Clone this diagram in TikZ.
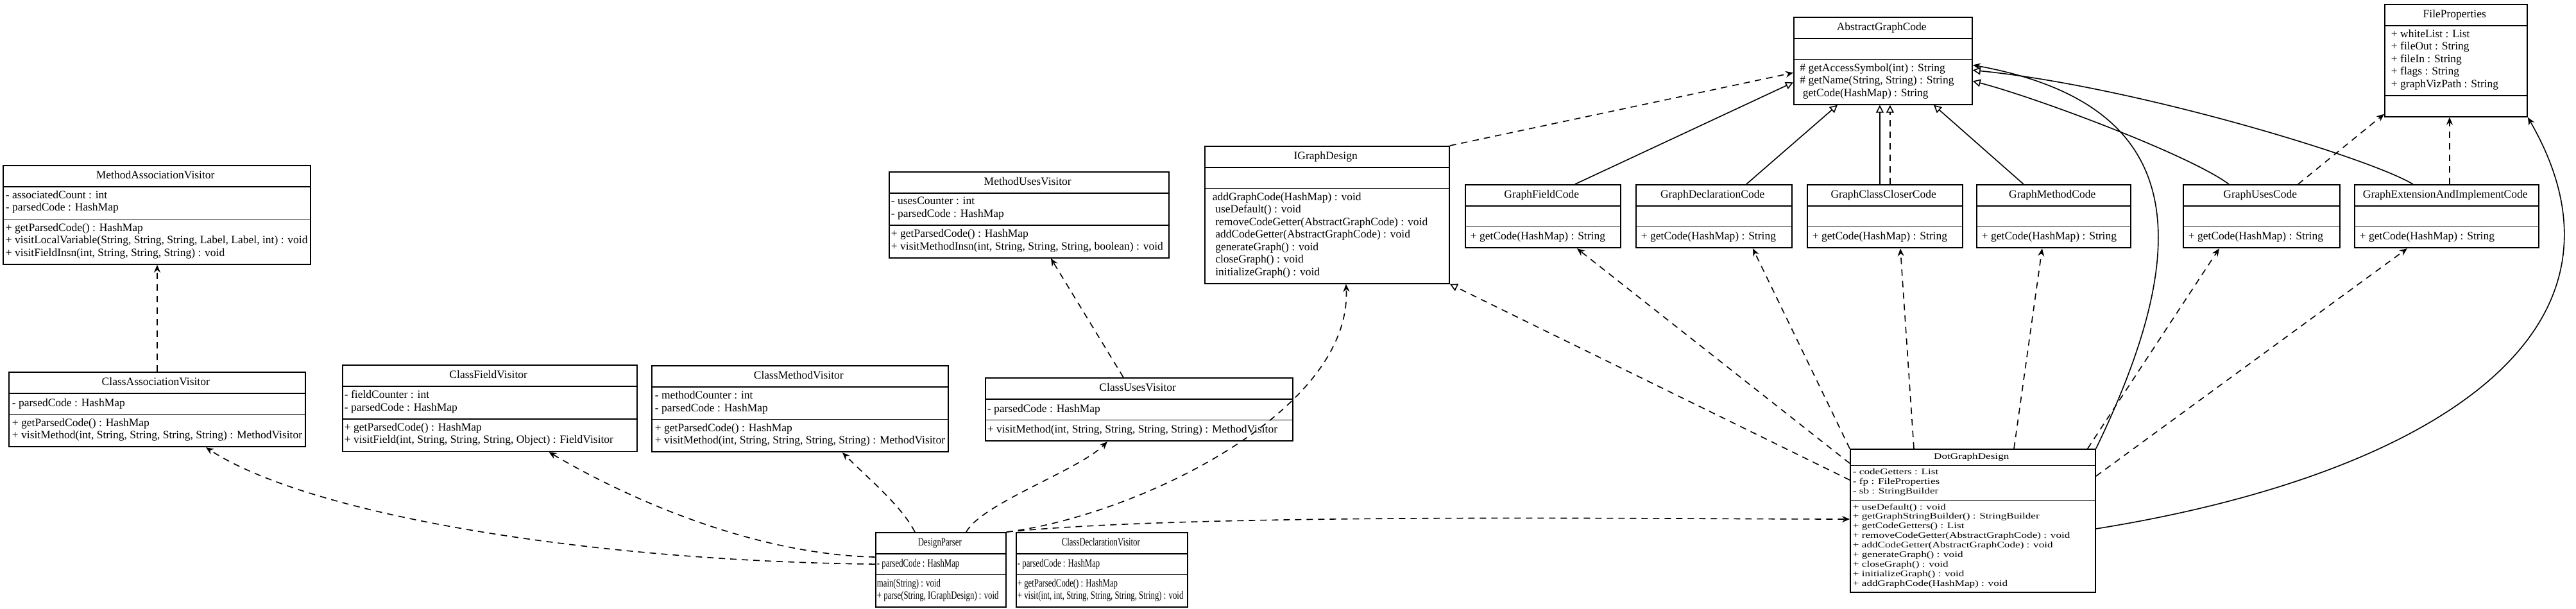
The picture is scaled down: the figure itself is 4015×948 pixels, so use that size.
\documentclass[tikz,border=0pt]{standalone}
\usepackage{fontspec}
\setmainfont{Liberation Serif}
\newfontfamily\narrowserif[FakeStretch=0.73]{Liberation Serif}
\newfontfamily\wideserif[FakeStretch=1.3]{Liberation Serif}
\usetikzlibrary{positioning,shapes.multipart,arrows.meta}

\newcommand{\umlfont}{\fontsize{8.75}{9.75}\selectfont}
\newcommand{\umlnarrowfont}{\narrowserif\fontsize{8.75}{9.75}\selectfont}
\newcommand{\umlwidefont}{\wideserif\fontsize{6.6}{7.45}\selectfont}

\tikzset{
  umlclass/.style={draw, line width=0.9pt, rectangle split, rectangle split parts=3,
    rectangle split part align={center,left,left}, align=left,
    minimum width=#1, inner xsep=1.5pt, inner ysep=2.875pt,
    font=\umlfont, anchor=north west,
    execute at begin node=\strut, execute at end node=\strut},
  dep/.style={line width=0.8pt, dash pattern=on 5pt off 4pt,
    -{Stealth[length=6pt,width=5pt,inset=2pt]}},
  assoc/.style={line width=0.8pt, -{Stealth[length=6pt,width=5pt,inset=2pt]}},
  gen/.style={line width=0.8pt, -{Triangle[open,length=6pt,width=6pt]}},
  real/.style={gen, dash pattern=on 5pt off 4pt}
}

\begin{document}
\begin{tikzpicture}[x=0.5pt,y=-0.5pt]
\useasboundingbox (0,0) rectangle (4015,948);

% visitors
\node[umlclass=239.5pt, inner xsep=2pt] (mav) at (4,257) {MethodAssociationVisitor
  \nodepart{two}- associatedCount : int\\- parsedCode : HashMap
  \nodepart{three}+ getParsedCode() : HashMap\\+ visitLocalVariable(String, String, String, Label, Label, int) : void\\+ visitFieldInsn(int, String, String, String) : void};
\node[umlclass=231pt, inner xsep=2.5pt] (cav) at (13,579) {ClassAssociationVisitor
  \nodepart{two}- parsedCode : HashMap
  \nodepart{three}+ getParsedCode() : HashMap\\+ visitMethod(int, String, String, String, String) : MethodVisitor};
\node[umlclass=229.5pt] (cfv) at (533,568) {ClassFieldVisitor
  \nodepart{two}- fieldCounter : int\\- parsedCode : HashMap
  \nodepart{three}+ getParsedCode() : HashMap\\+ visitField(int, String, String, String, Object) : FieldVisitor};
\node[umlclass=231pt, inner xsep=2.5pt] (cmv) at (1015,569) {ClassMethodVisitor
  \nodepart{two}- methodCounter : int\\- parsedCode : HashMap
  \nodepart{three}+ getParsedCode() : HashMap\\+ visitMethod(int, String, String, String, String) : MethodVisitor};
\node[umlclass=218pt] (muv) at (1385,267) {MethodUsesVisitor
  \nodepart{two}- usesCounter : int\\- parsedCode : HashMap
  \nodepart{three}+ getParsedCode() : HashMap\\+ visitMethodInsn(int, String, String, String, boolean) : void};
\node[umlclass=239.5pt] (cuv) at (1535,588) {ClassUsesVisitor
  \nodepart{two}- parsedCode : HashMap
  \nodepart{three}+ visitMethod(int, String, String, String, String) : MethodVisitor};
\node[umlclass=101.5pt, font=\umlnarrowfont, inner xsep=1pt] (dp) at (1364,829) {DesignParser
  \nodepart{two}- parsedCode : HashMap
  \nodepart{three}main(String) : void\\+ parse(String, IGraphDesign) : void};
\node[umlclass=133.5pt, font=\umlnarrowfont, inner xsep=1pt] (cdv) at (1583,829) {ClassDeclarationVisitor
  \nodepart{two}- parsedCode : HashMap
  \nodepart{three}+ getParsedCode() : HashMap\\+ visit(int, int, String, String, String, String) : void};

% graph design
\node[umlclass=190.5pt, inner xsep=6pt] (igd) at (1877,227) {IGraphDesign
  \nodepart{two}
  \nodepart{three}addGraphCode(HashMap) : void\\\ useDefault() : void\\\ removeCodeGetter(AbstractGraphCode) : void\\\ addCodeGetter(AbstractGraphCode) : void\\\ generateGraph() : void\\\ closeGraph() : void\\\ initializeGraph() : void};
\node[umlclass=191pt, font=\umlwidefont, inner xsep=2pt, inner ysep=2.2pt] (dgd) at (2883,699) {DotGraphDesign
  \nodepart{two}- codeGetters : List\\- fp : FileProperties\\- sb : StringBuilder
  \nodepart{three}+ useDefault() : void\\+ getGraphStringBuilder() : StringBuilder\\+ getCodeGetters() : List\\+ removeCodeGetter(AbstractGraphCode) : void\\+ addCodeGetter(AbstractGraphCode) : void\\+ generateGraph() : void\\+ closeGraph() : void\\+ initializeGraph() : void\\+ addGraphCode(HashMap) : void};
\node[umlclass=139pt, inner xsep=4.75pt] (agc) at (2795,26) {AbstractGraphCode
  \nodepart{two}
  \nodepart{three}\# getAccessSymbol(int) : String\\\# getName(String, String) : String\\\ getCode(HashMap) : String};
\node[umlclass=111pt, inner xsep=5pt] (fp) at (3716,6) {FileProperties
  \nodepart{two}+ whiteList : List\\+ fileOut : String\\+ fileIn : String\\+ flags : String\\+ graphVizPath : String
  \nodepart{three}};

% code getters
\node[umlclass=121pt, inner xsep=4pt] (gfc) at (2283,287) {GraphFieldCode
  \nodepart{two}\nodepart{three}+ getCode(HashMap) : String};
\node[umlclass=121.5pt, inner xsep=4pt] (gdc) at (2549,287) {GraphDeclarationCode
  \nodepart{two}\nodepart{three}+ getCode(HashMap) : String};
\node[umlclass=121pt, inner xsep=4pt] (gcc) at (2816,287) {GraphClassCloserCode
  \nodepart{two}\nodepart{three}+ getCode(HashMap) : String};
\node[umlclass=120pt, inner xsep=4pt] (gmc) at (3080,287) {GraphMethodCode
  \nodepart{two}\nodepart{three}+ getCode(HashMap) : String};
\node[umlclass=122pt, inner xsep=4pt] (guc) at (3402,287) {GraphUsesCode
  \nodepart{two}\nodepart{three}+ getCode(HashMap) : String};
\node[umlclass=143.5pt, inner xsep=4pt] (geic) at (3669,287) {GraphExtensionAndImplementCode
  \nodepart{two}\nodepart{three}+ getCode(HashMap) : String};

% visitor dependencies
\draw[dep] (cav.north) -- (cav.north |- mav.south);
\draw[dep] ([xshift=-12.25pt]cuv.north) -- ([xshift=17pt]muv.south);
\draw[dep] ([yshift=4.5pt]dp.west) .. controls +(-450,-5) and +(160,105) .. ([xshift=38pt]cav.south);
\draw[dep] ([yshift=10pt]dp.west) .. controls +(-200,-5) and +(110,65) .. ([xshift=46pt]cfv.south);
\draw[dep] ([xshift=-20.25pt]dp.north) .. controls +(-20,-40) and +(40,40) .. ([xshift=33pt]cmv.south);
\draw[dep] ([xshift=19.75pt]dp.north) .. controls +(25,-45) and +(-45,45) .. ([xshift=-24.75pt]cuv.south);
\draw[dep] (dp.north east) .. controls +(200,-25) and +(10,200) .. ([xshift=14.75pt]igd.south);
\draw[dep] (dp.north east) .. controls +(300,-30) and +(-300,0) .. ([yshift=-55pt]dgd.north west);

% graph design relations
\draw[dep] (igd.north east) -- ([yshift=-9.25pt]agc.west);
\draw[real] ([yshift=-24.5pt]dgd.north west) -- (igd.south east);
\draw[dep] ([yshift=-11.5pt]dgd.north west) -- ([xshift=26.5pt]gfc.south);
\draw[dep] (dgd.north west) -- ([xshift=30.25pt]gdc.south);
\draw[dep] ([xshift=50pt]dgd.north west) -- ([xshift=12pt]gcc.south);
\draw[dep] ([xshift=128pt]dgd.north west) -- ([xshift=-9pt]gmc.south);
\draw[dep] ([xshift=-6.5pt]dgd.north east) -- ([xshift=-33pt]guc.south);
\draw[dep] ([yshift=-21.5pt]dgd.north east) -- ([xshift=-30.75pt]geic.south);
\draw[assoc] (dgd.north east) .. controls +(160,-330) and +(330,60) .. ([yshift=-3.25pt]agc.east);
\draw[assoc] ([yshift=-62.5pt]dgd.north east) .. controls +(500,-80) and +(200,346) .. (fp.south east);

% inheritance
\draw[gen] ([xshift=25pt]gfc.north) -- ([yshift=-16.75pt]agc.west);
\draw[gen] ([xshift=25.25pt]gdc.north) -- ([xshift=-35.5pt]agc.south);
\draw[gen] ([xshift=-4pt]gcc.north) -- ([xshift=-4pt]gcc.north |- agc.south);
\draw[real] ([xshift=4pt]gcc.north) -- ([xshift=4pt]gcc.north |- agc.south);
\draw[gen] ([xshift=-23.5pt]gmc.north) -- ([xshift=39.5pt]agc.south);
\draw[gen] ([xshift=-25.5pt]guc.north) .. controls +(-60,-45) and +(100,26) .. ([yshift=-15.75pt]agc.east);
\draw[gen] ([xshift=-26.25pt]geic.north) .. controls +(-70,-42) and +(250,25) .. ([yshift=-7.25pt]agc.east);
\draw[dep] ([xshift=28.5pt]guc.north) -- ([yshift=2.5pt]fp.south west);
\draw[dep] ([xshift=2.25pt]geic.north) -- ([xshift=2.25pt]geic.north |- fp.south);
\end{tikzpicture}
\end{document}
